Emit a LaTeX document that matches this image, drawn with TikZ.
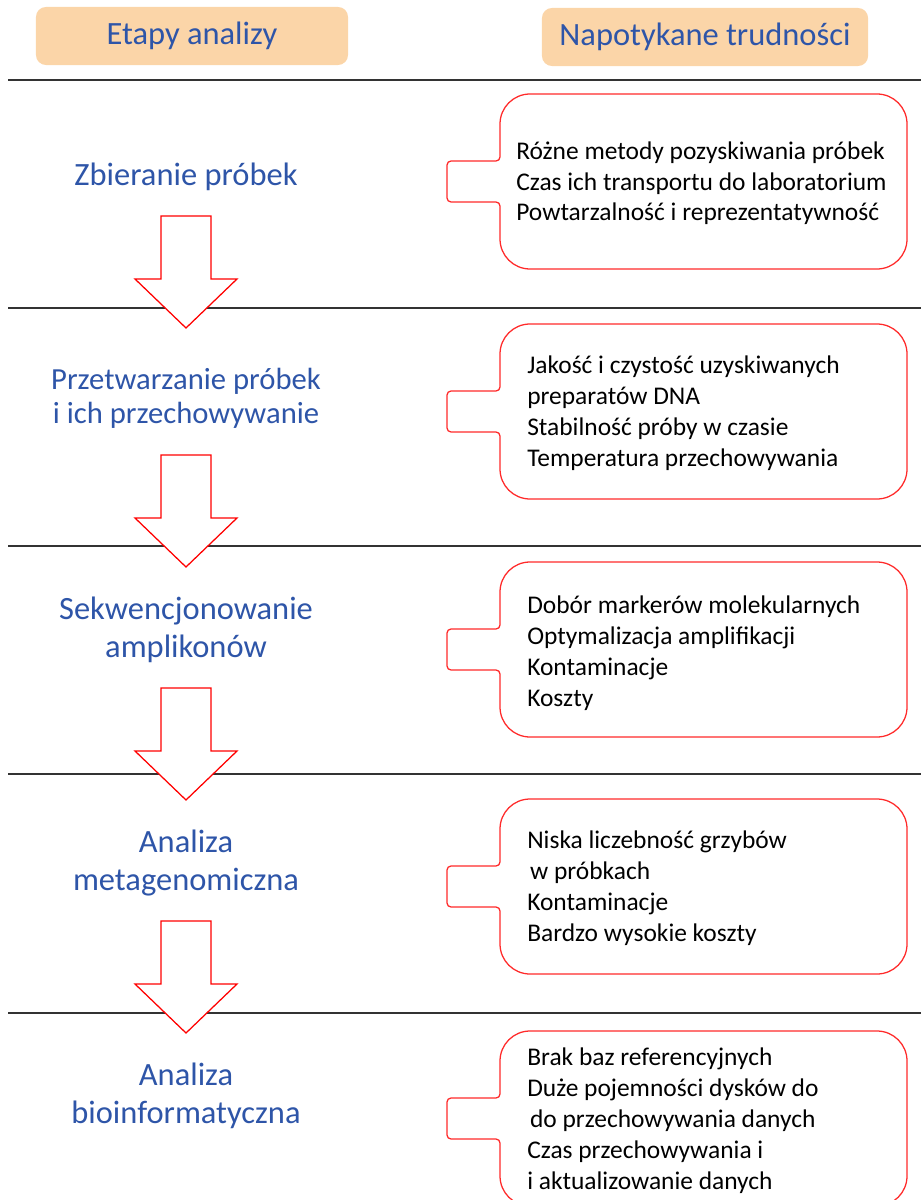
\documentclass[tikz,border=0pt]{standalone}
\usepackage{fontspec}
\setmainfont{Carlito}
\usepackage{xcolor}
\usepackage{tikz}
\usetikzlibrary{positioning}
\definecolor{stageblue}{HTML}{2E55A8}
\definecolor{headpeach}{HTML}{FBD5A8}
\definecolor{issuered}{HTML}{FF2A2A}
\definecolor{rulegray}{HTML}{333333}

\newcommand{\issuebox}[1]{%
  \draw[issueline] (700,#1) [rounded corners=0.75cm] -- (907,#1) -- (907,#1+175)
    -- (500,#1+175) [rounded corners=0.1cm] -- (500,#1+108)
    -- (447,#1+108) -- (447,#1+67) -- (500,#1+67)
    [rounded corners=0.75cm] -- (500,#1) -- cycle;}

\begin{document}
\begin{tikzpicture}[x=0.025cm,y=-0.025cm,
  headbox/.style={fill=headpeach,rounded corners=0.25cm,minimum width=7.8cm,
    minimum height=1.45cm,text=stageblue,font=\fontsize{23.1}{27}\selectfont},
  stage/.style={anchor=base,align=center,text=stageblue,inner sep=0pt,
    font=\fontsize{23.1}{27}\selectfont},
  issue/.style={anchor=base west,align=left,inner sep=0pt,
    font=\fontsize{18.1}{22}\selectfont},
  issueline/.style={draw=issuered,line width=0.9pt,fill=white},
  blockarrow/.style={draw=red,line width=0.9pt,fill=white}]
  \useasboundingbox (0,0) rectangle (921,1200);
  \clip (0,0) rectangle (921,1200);
  \node[headbox] (head1) at (192,36) {Etapy analizy};
  \node[headbox,minimum width=8.15cm] (head2) at (705,37) {Napotykane trudności};
  \foreach \yr in {80,308,546,774,1013}{
    \draw[rulegray,line width=1.3pt] (8,\yr) -- (921,\yr);
  }
  \foreach \ya in {216,455,688,921}{
    \draw[blockarrow] (161,\ya) -- (211,\ya) -- (211,\ya+63) -- (237,\ya+63)
      -- (186,\ya+112) -- (135,\ya+63) -- (161,\ya+63) -- cycle;
  }
  \node[stage] (stage1) at (186,186) {Zbieranie próbek};
  \node[stage,font=\fontsize{21.8}{23.5}\selectfont] (stage2) at (186,423)
    {Przetwarzanie próbek\\ i ich przechowywanie};
  \node[stage] (stage3) at (186,657) {Sekwencjonowanie\\amplikonów};
  \node[stage] (stage4) at (186,890) {Analiza\\metagenomiczna};
  \node[stage] (stage5) at (186,1123) {Analiza\\bioinformatyczna};
  \issuebox{94}
  \issuebox{324}
  \issuebox{562}
  \issuebox{799}
  \issuebox{1031}
  \node[issue] (issue1) at (516,221) {Różne metody pozyskiwania próbek\\
    Czas ich transportu do laboratorium\\Powtarzalność i reprezentatywność};
  \node[issue] (issue2) at (527,466) {Jakość i czystość uzyskiwanych\\
    preparatów DNA\\Stabilność próby w czasie\\Temperatura przechowywania};
  \node[issue] (issue3) at (527,706) {Dobór markerów molekularnych\\
    Optymalizacja amplifikacji\\Kontaminacje\\Koszty};
  \node[issue] (issue4) at (527,941) {Niska liczebność grzybów\\
    \hspace{2pt}w próbkach\\Kontaminacje\\Bardzo wysokie koszty};
  \node[issue] (issue5) at (527,1189) {Brak baz referencyjnych\\
    Duże pojemności dysków do\\\hspace{2pt}do przechowywania danych\\
    Czas przechowywania i\\i aktualizowanie danych};
\end{tikzpicture}
\end{document}
